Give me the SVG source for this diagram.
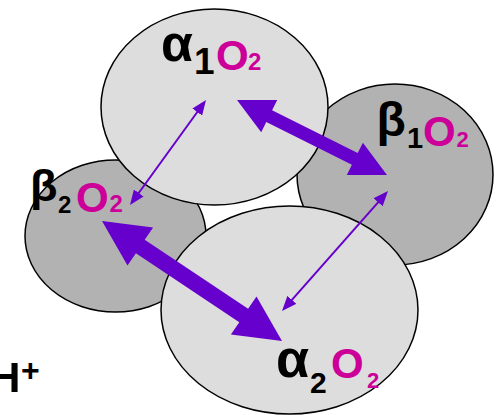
<svg xmlns="http://www.w3.org/2000/svg" width="498" height="415" viewBox="0 0 498 415">
  <style>
    .light { fill: #DDDDDD; stroke: #000000; stroke-width: 1.5; }
    .dark { fill: #B2B2B2; stroke: #000000; stroke-width: 1.5; }
    text { font-family: "Liberation Sans", Arial, sans-serif; font-weight: bold; fill: #000000; }
    .mg { fill: #CC0099; }
    .thick { fill: #6600CC; stroke: none; }
    .thin { stroke: #6600CC; stroke-width: 2; fill: none; marker-start: url(#head); marker-end: url(#head); }
  </style>
  <defs>
    <marker id="head" viewBox="0 -6 15 12" refX="10" refY="0" markerWidth="15" markerHeight="12" markerUnits="userSpaceOnUse" orient="auto-start-reverse">
      <path d="M0,-6 L15,0 L0,6 z" fill="#6600CC"/>
    </marker>
  </defs>

  <g id="beta1">
    <ellipse class="dark" cx="395" cy="174.5" rx="98" ry="90.5"/>
    <text><tspan x="376.5" y="136" font-size="48">β</tspan><tspan x="407" y="148" font-size="29">1</tspan><tspan class="mg" x="423" y="146" font-size="42">O</tspan><tspan class="mg" x="456.5" y="147" font-size="22">2</tspan></text>
  </g>

  <g id="beta2">
    <ellipse class="dark" cx="115.5" cy="236" rx="90.5" ry="76"/>
    <text><tspan x="30" y="200.5" font-size="45">β</tspan><tspan x="58" y="212.5" font-size="24">2</tspan><tspan class="mg" x="76" y="211.5" font-size="42">O</tspan><tspan class="mg" x="109.5" y="212" font-size="24">2</tspan></text>
  </g>

  <g id="alpha1">
    <ellipse class="light" cx="214.5" cy="107" rx="113.5" ry="98"/>
    <text><tspan x="161" y="61" font-size="52">α</tspan><tspan x="194" y="74" font-size="37">1</tspan><tspan class="mg" x="216" y="69.5" font-size="42">O</tspan><tspan class="mg" x="248" y="70" font-size="24">2</tspan></text>
  </g>

  <g id="alpha2">
    <ellipse class="light" cx="289.5" cy="310" rx="128.5" ry="104"/>
    <text><tspan x="276" y="377" font-size="54">α</tspan><tspan x="310" y="393" font-size="30">2</tspan><tspan class="mg" x="331" y="378" font-size="42">O</tspan><tspan class="mg" x="367" y="388" font-size="22">2</tspan></text>
  </g>

  <g id="connectors">
    <polygon class="thick" points="237,100 277.2,100 272.1,110.3 357.7,153.1 362.9,142.8 387,175 346.8,175 351.9,164.7 266.3,121.9 261.2,132.2"/>
    <polygon class="thick" points="102,221 153.1,227.4 144.7,239.8 248.1,308.8 256.5,296.4 282,341 230.9,334.6 239.3,322.2 135.9,253.2 127.5,265.6"/>
    <line class="thin" x1="203.1" y1="104" x2="132.9" y2="201"/>
    <line class="thin" x1="384.7" y1="194.8" x2="285.3" y2="307.3"/>
  </g>

  <g id="proton">
    <text><tspan x="-10" y="392" font-size="42">H</tspan><tspan x="21" y="381" font-size="32">+</tspan></text>
  </g>
</svg>
